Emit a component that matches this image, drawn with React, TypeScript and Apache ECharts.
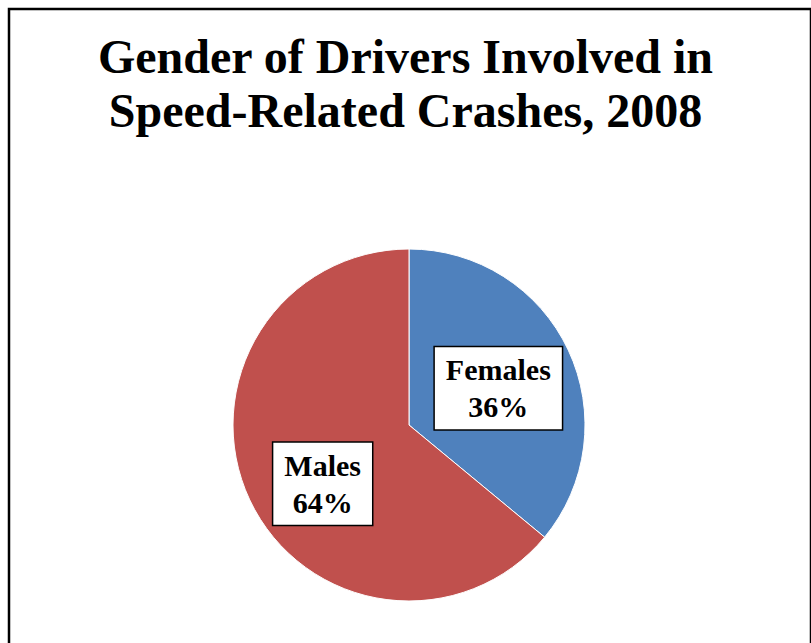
import React, { useEffect, useRef } from "react";
import * as echarts from "echarts";

const titleLines = ["Gender of Drivers Involved in", "Speed-Related Crashes, 2008"];
const categories = ["Females", "Males"];
const values = [36, 64];
const colors = ["#4F81BD", "#C0504D"];
const labelShifts = [
  [7, 2],
  [-4, 20],
];

export default function App() {
  const ref = useRef<HTMLDivElement>(null);
  useEffect(() => {
    const chart = echarts.init(ref.current!, null, { renderer: "svg" });
    chart.setOption({
      animation: false,
      backgroundColor: "#ffffff",
      graphic: [
        {
          type: "rect",
          shape: { x: 9, y: 9, width: 802, height: 700 },
          style: { fill: "none", stroke: "#000", lineWidth: 2.5 },
          silent: true,
        },
      ],
      title: {
        text: titleLines.join("\n"),
        left: "center",
        top: 24,
        textStyle: {
          fontFamily: "Liberation Serif",
          fontWeight: "bold",
          fontSize: 48,
          lineHeight: 54,
          color: "#000",
        },
      },
      series: [
        {
          type: "pie",
          center: [409, 425],
          radius: 176,
          startAngle: 90,
          clockwise: true,
          silent: true,
          itemStyle: { borderColor: "#fff", borderWidth: 1 },
          label: {
            show: true,
            position: "inside",
            formatter: (p: any) => `${p.name}\n${p.value}%`,
            fontFamily: "Liberation Serif",
            fontWeight: "bold",
            fontSize: 30,
            lineHeight: 37,
            color: "#000",
            backgroundColor: "#fff",
            borderColor: "#000",
            borderWidth: 1.5,
            padding: [5, 11, 3, 11],
            align: "center",
          },
          labelLine: { show: false },
          labelLayout: (params: any) => ({
            dx: labelShifts[params.dataIndex][0],
            dy: labelShifts[params.dataIndex][1],
          }),
          data: categories.map((c, i) => ({
            name: c,
            value: values[i],
            itemStyle: { color: colors[i] },
          })),
        },
      ],
    });
    return () => chart.dispose();
  }, []);
  return (
    <div
      ref={ref}
      style={{ position: "fixed", left: 0, top: 0, width: 811, height: 643 }}
    />
  );
}
